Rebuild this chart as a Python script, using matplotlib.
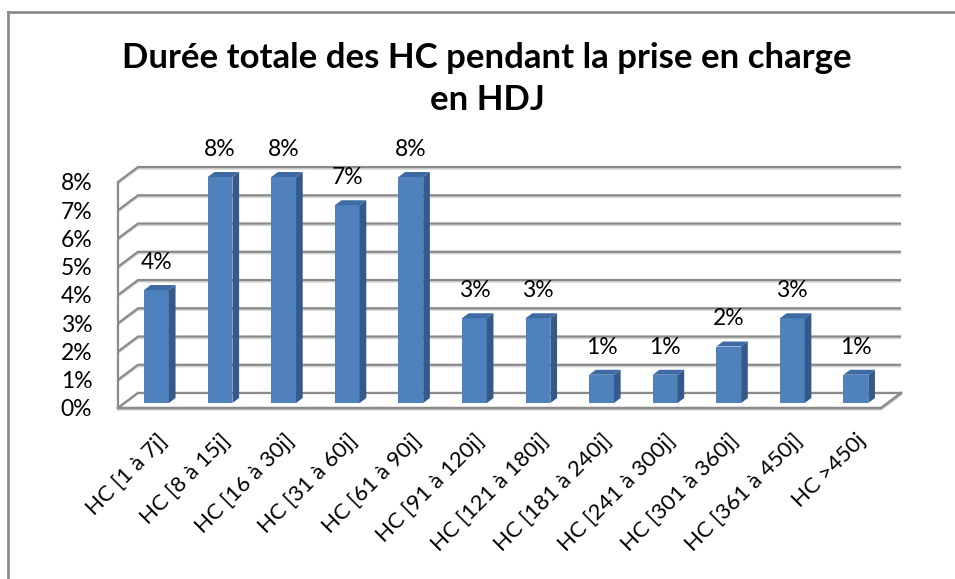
import numpy as np
import matplotlib
matplotlib.use('Agg')
import matplotlib.pyplot as plt
from matplotlib.patches import Polygon
from matplotlib.lines import Line2D

plt.rcParams['font.family'] = ['Lato', 'DejaVu Sans']

# data
categories = ['HC [1 à 7j]', 'HC [8 à 15j]', 'HC [16 à 30j]', 'HC [31 à 60j]',
              'HC [61 à 90j]', 'HC [91 à 120j]', 'HC [121 à 180j]', 'HC [181 à 240j]',
              'HC [241 à 300j]', 'HC [301 à 360j]', 'HC [361 à 450j]', 'HC >450j']
values = [4, 8, 8, 7, 8, 3, 3, 1, 1, 2, 3, 1]
yticks = [0, 1, 2, 3, 4, 5, 6, 7, 8]
title = 'Durée totale des HC pendant la prise en charge'
title2 = 'en HDJ'

W, H = 955, 579
fig = plt.figure(figsize=(W / 100, H / 100), dpi=100)
ax = fig.add_axes([118 / W, 1 - 408 / H, 763 / W, 226 / H])
n = len(categories)
ax.set_xlim(-0.5, n - 0.5)
ax.set_ylim(0, 8)

# fake 3d depth (full depth of floor, in data units)
DX, DY = 0.315, 0.53
d0, d1 = 1 / 3, 2 / 3
x0, x1 = -0.5, n - 0.5
ymax = max(yticks)

grid_dark = '#8a8a8a'
grid_light = '#d2d2d2'

# back wall + side wall
ax.add_patch(Polygon([(x0 + DX, DY), (x1 + DX, DY), (x1 + DX, ymax + DY), (x0 + DX, ymax + DY)],
                     closed=True, fc='white', ec='none', zorder=1, clip_on=False))
for k in yticks:
    ax.plot([x0, x0 + DX, x1 + DX], [k - 0.06, k + DY - 0.06, k + DY - 0.06],
            color=grid_light, lw=1.3, zorder=2, clip_on=False, solid_capstyle='butt')
    ax.plot([x0, x0 + DX, x1 + DX], [k, k + DY, k + DY],
            color=grid_dark, lw=1.6, zorder=2, clip_on=False, solid_capstyle='butt')
ax.plot([x0, x0], [0, ymax], color=grid_dark, lw=1.6, zorder=2, clip_on=False)

# floor
ax.add_patch(Polygon([(x0, 0), (x1, 0), (x1 + DX, DY), (x0 + DX, DY)],
                     closed=True, fc='white', ec='none', zorder=2, clip_on=False))
ax.plot([x0 + DX, x1 + DX], [DY, DY], color=grid_dark, lw=1.6, zorder=2, clip_on=False)
ax.plot([x0, x0 + DX], [0, DY], color=grid_dark, lw=1.6, zorder=2, clip_on=False)
ax.plot([x0, x1, x1 + DX], [-0.05, -0.05, DY - 0.05], color=grid_light, lw=1.8, zorder=2, clip_on=False)
ax.plot([x0, x1, x1 + DX], [0, 0, DY], color=grid_dark, lw=1.8, zorder=2, clip_on=False)

# bars
w = 0.39
xs = np.arange(n) + d0 * DX
base = d0 * DY
dd = d1 - d0
bars = ax.bar(xs, values, width=w, bottom=base, color='#4f81bd', edgecolor='none', zorder=5)
for b in bars:
    b.set_clip_on(False)
for xc, v in zip(xs, values):
    xl, xr = xc - w / 2, xc + w / 2
    top = base + v
    ax.add_patch(Polygon([(xr, base), (xr, top), (xr + dd * DX, top + dd * DY), (xr + dd * DX, base + dd * DY)],
                         closed=True, fc='#35598a', ec='none', zorder=5, clip_on=False))
    ax.add_patch(Polygon([(xl, top), (xr, top), (xr + dd * DX, top + dd * DY), (xl + dd * DX, top + dd * DY)],
                         closed=True, fc='#3f6ba3', ec='none', zorder=5, clip_on=False))
    ax.text(xc, top + 0.98, f'{v}%', ha='center', va='center', fontsize=16.5, color='#000000',
            zorder=6, clip_on=False)

ax.set_frame_on(False)
ax.set_yticks(yticks)
ax.set_yticklabels([f'{k}%' for k in yticks], fontsize=16.5)
ax.set_xticks(xs)
ax.set_xticklabels(categories, fontsize=16, rotation=45, ha='right', rotation_mode='anchor')
ax.tick_params(axis='y', length=0, pad=18.5)
ax.tick_params(axis='x', length=0, pad=16)

fig.text(487 / W, 1 - 58 / H, title, ha='center', va='center', fontsize=25, fontweight='bold')
fig.text(487 / W, 1 - 100 / H, title2, ha='center', va='center', fontsize=25, fontweight='bold')

# chart area border (top and left visible)
fig.add_artist(Line2D([7.5 / W, 1], [1 - 11.5 / H, 1 - 11.5 / H], transform=fig.transFigure, color='#8c8c8c', lw=2))
fig.add_artist(Line2D([7.5 / W, 7.5 / W], [0, 1 - 11.5 / H], transform=fig.transFigure, color='#8c8c8c', lw=2))

fig.savefig('out.png', dpi=100, facecolor='white')
